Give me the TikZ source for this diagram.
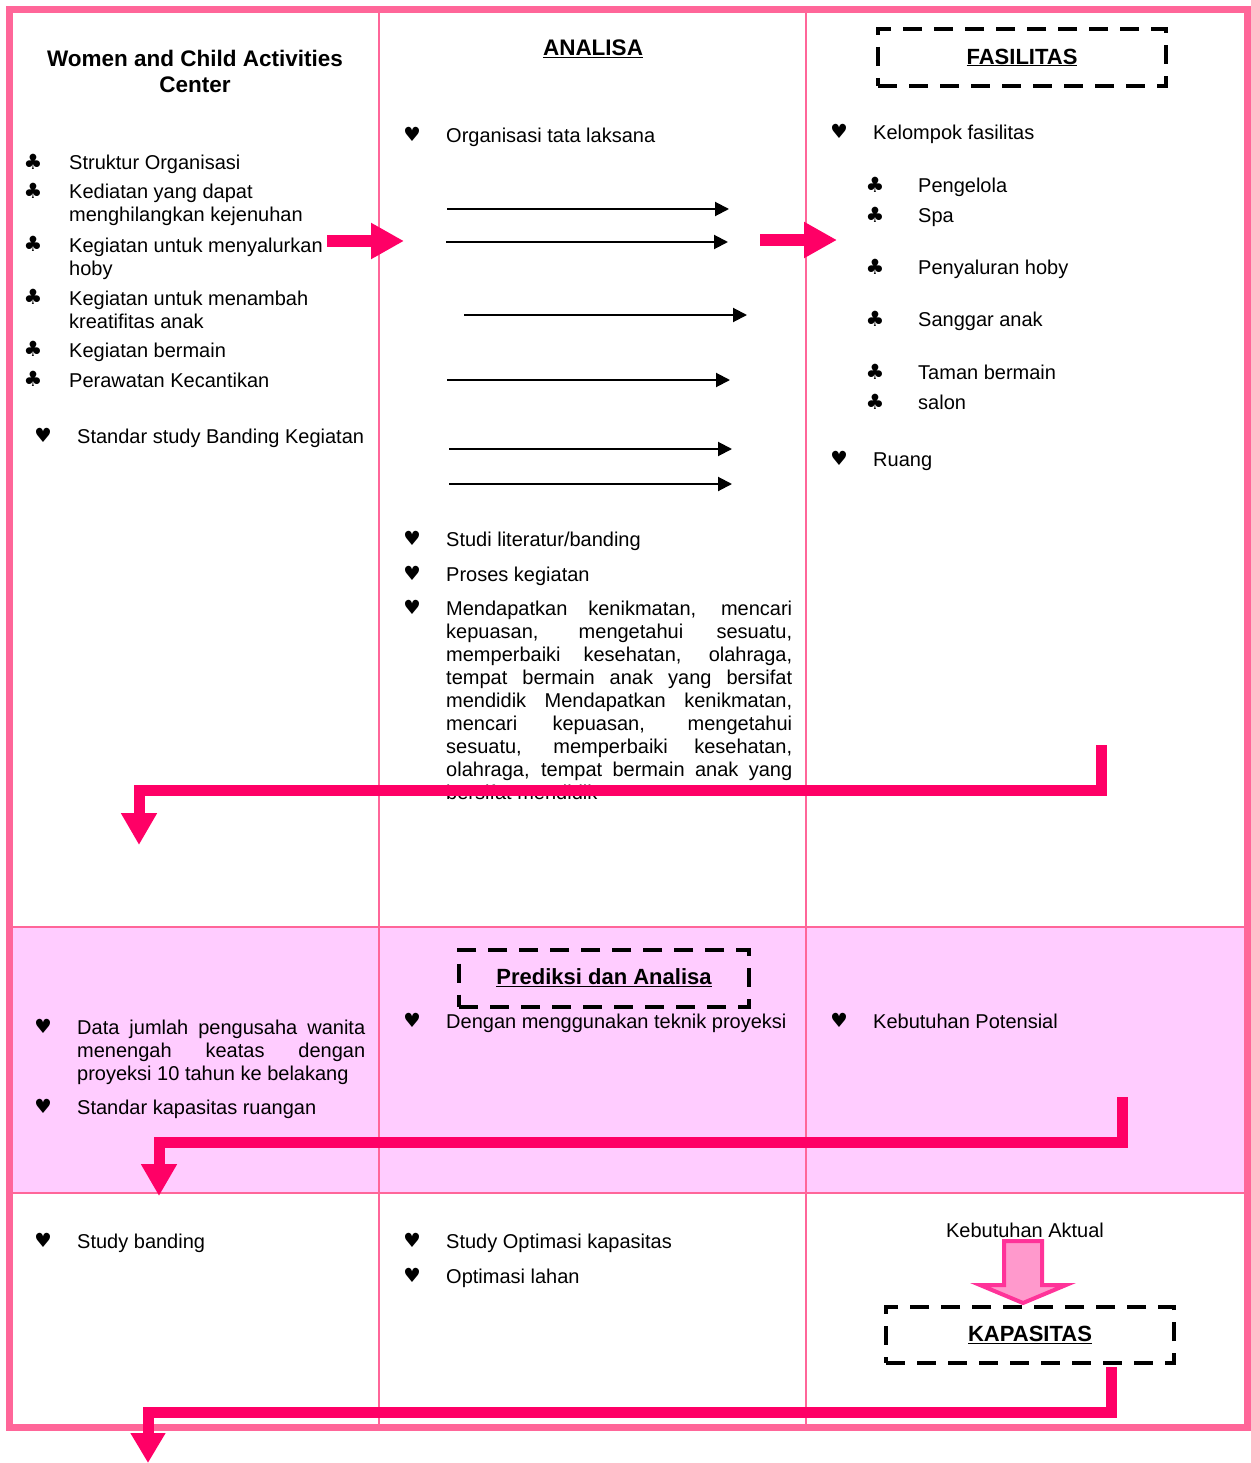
\documentclass[tikz,border=0pt]{standalone}
\usepackage{fontspec}
\setmainfont{Liberation Sans}
\newfontfamily\symf{DejaVu Sans}
\usetikzlibrary{arrows.meta}
\definecolor{framepink}{HTML}{FF6699}
\definecolor{hotpink}{HTML}{FF0066}
\definecolor{bandpink}{HTML}{FFCCFF}
\definecolor{fatfill}{HTML}{FF99CC}
\definecolor{fatline}{HTML}{FF3399}
\newcommand\mylines[1]{\vtop{\halign{##\hfil\cr#1\crcr}}}
\newcommand\mycenter[1]{\vtop{\halign{\hfil##\hfil\cr#1\crcr}}}
\newcommand\jline[2]{\makebox[#1][s]{#2}}
\tikzset{
  txt/.style={anchor=base west, inner sep=0pt, font=\fontsize{20}{23}\selectfont},
  ctxt/.style={anchor=base, inner sep=0pt, font=\fontsize{20}{23}\selectfont},
  ttl/.style={anchor=base, inner sep=0pt, font=\bfseries\fontsize{22.5}{25.5}\selectfont},
  clubb/.style={inner sep=0pt, font=\symf\fontsize{21}{21}\selectfont},
  heartb/.style={inner sep=0pt, font=\symf\fontsize{19.5}{19.5}\selectfont},
  flow/.style={draw=black, line width=2pt, -{Triangle[length=14pt,width=14pt]}},
  bigarrow/.style={draw=hotpink, line width=12pt, -{Triangle[length=33pt,width=34pt]}},
  elbow/.style={draw=hotpink, line width=11pt, line join=miter, -{Triangle[length=32pt,width=34pt]}},
  dbox/.style={draw=black, line width=4pt, dash pattern=on 19pt off 12pt, inner sep=0pt,
    minimum height=57pt, font=\bfseries\fontsize{22}{25.5}\selectfont},
  gridline/.style={draw=framepink, line width=2pt},
}
\begin{document}
\begin{tikzpicture}[x=1pt,y=-1pt]
\useasboundingbox (0,0) rectangle (1250,1463);
% pink band
\fill[bandpink] (13,927) rectangle (1244,1193);
% grid
\draw[gridline] (379,9.5) -- (379,1427);
\draw[gridline] (806,9.5) -- (806,1427);
\draw[gridline, line width=1.5pt] (9.5,927) -- (1247,927);
\draw[gridline, line width=1.5pt] (9.5,1193) -- (1247,1193);
\draw[draw=framepink, line width=7pt] (9.5,9.5) rectangle (1247,1427);

% ---------- column 1 ----------
\node[ttl] (title) at (195,67) {\mycenter{Women and Child Activities\cr Center}};
\node[clubb] (c1) at (33,161.5) {♣};
\node[txt] (t1) at (69,170) {Struktur Organisasi};
\node[clubb] (c2) at (33,190.5) {♣};
\node[txt] (t2) at (69,199) {\mylines{Kediatan yang dapat\cr menghilangkan kejenuhan}};
\node[clubb] (c3) at (33,243.5) {♣};
\node[txt] (t3) at (69,252) {\mylines{Kegiatan untuk menyalurkan\cr hoby}};
\node[clubb] (c4) at (33,296.5) {♣};
\node[txt] (t4) at (69,305) {\mylines{Kegiatan untuk menambah\cr kreatifitas anak}};
\node[clubb] (c5) at (33,348.5) {♣};
\node[txt] (t5) at (69,357) {Kegiatan bermain};
\node[clubb] (c6) at (33,378.5) {♣};
\node[txt] (t6) at (69,387) {Perawatan Kecantikan};
\node[heartb] (h1) at (43,435.5) {♥};
\node[txt] (s1) at (77,443.5) {Standar study Banding Kegiatan};

% ---------- column 2 ----------
\node[ttl] (analisa) at (593,56) {\underline{ANALISA}};
\node[heartb] (h2) at (412,134.5) {♥};
\node[txt] (o1) at (446,142.5) {Organisasi tata laksana};
\coordinate (f1s) at (447,209); \coordinate (f1e) at (729,209);
\coordinate (f2s) at (446,242); \coordinate (f2e) at (728,242);
\coordinate (f3s) at (464,315); \coordinate (f3e) at (747,315);
\coordinate (f4s) at (447,380); \coordinate (f4e) at (730,380);
\coordinate (f5s) at (449,449); \coordinate (f5e) at (732,449);
\coordinate (f6s) at (449,484); \coordinate (f6e) at (732,484);
\draw[flow] (f1s) -- (f1e);
\draw[flow] (f2s) -- (f2e);
\draw[flow] (f3s) -- (f3e);
\draw[flow] (f4s) -- (f4e);
\draw[flow] (f5s) -- (f5e);
\draw[flow] (f6s) -- (f6e);
\node[heartb] (h3) at (412,538.5) {♥};
\node[txt] (l1) at (446,546.5) {Studi literatur/banding};
\node[heartb] (h4) at (412,573.5) {♥};
\node[txt] (l2) at (446,581.5) {Proses kegiatan};
\node[heartb] (h5) at (412,607.5) {♥};
\node[txt] (para) at (446,615.5) {\mylines{%
\jline{346pt}{Mendapatkan kenikmatan, mencari}\cr
\jline{346pt}{kepuasan, mengetahui sesuatu,}\cr
\jline{346pt}{memperbaiki kesehatan, olahraga,}\cr
\jline{346pt}{tempat bermain anak yang bersifat}\cr
\jline{346pt}{mendidik Mendapatkan kenikmatan,}\cr
\jline{346pt}{mencari kepuasan, mengetahui}\cr
\jline{346pt}{sesuatu, memperbaiki kesehatan,}\cr
\jline{346pt}{olahraga, tempat bermain anak yang}\cr
bersifat mendidik}};

% ---------- column 3 ----------
\node[dbox, minimum width=288pt] (fas) at (1022,57.5) {\underline{FASILITAS}};
\node[heartb] (h6) at (839,131.5) {♥};
\node[txt] (k1) at (873,139.5) {Kelompok fasilitas};
\node[clubb] (c7) at (875,184.5) {♣};
\node[txt] (p1) at (918,192.5) {Pengelola};
\node[clubb] (c8) at (875,214.5) {♣};
\node[txt] (p2) at (918,222.5) {Spa};
\node[clubb] (c9) at (875,266.5) {♣};
\node[txt] (p3) at (918,274.5) {Penyaluran hoby};
\node[clubb] (c10) at (875,318.5) {♣};
\node[txt] (p4) at (918,326.5) {Sanggar anak};
\node[clubb] (c11) at (875,371.5) {♣};
\node[txt] (p5) at (918,379.5) {Taman bermain};
\node[clubb] (c12) at (875,401.5) {♣};
\node[txt] (p6) at (918,409.5) {salon};
\node[heartb] (h7) at (839,458.5) {♥};
\node[txt] (r1) at (873,466.5) {Ruang};

% ---------- band ----------
\node[dbox, minimum width=290pt] (pred) at (604,978) {\underline{Prediksi dan Analisa}};
\node[heartb] (h8) at (412,1020.5) {♥};
\node[txt] (d1) at (446,1028.5) {Dengan menggunakan teknik proyeksi};
\node[heartb] (h9) at (43,1026.5) {♥};
\node[txt] (d2) at (77,1034.5) {\mylines{%
\jline{288pt}{Data jumlah pengusaha wanita}\cr
\jline{288pt}{menengah keatas dengan}\cr
proyeksi 10 tahun ke belakang}};
\node[heartb] (h10) at (43,1106.5) {♥};
\node[txt] (d3) at (77,1114.5) {Standar kapasitas ruangan};
\node[heartb] (h11) at (839,1020.5) {♥};
\node[txt] (d4) at (873,1028.5) {Kebutuhan Potensial};

% ---------- bottom row ----------
\node[heartb] (h12) at (43,1240.5) {♥};
\node[txt] (b1) at (77,1248.5) {Study banding};
\node[heartb] (h13) at (412,1240.5) {♥};
\node[txt] (b2) at (446,1248.5) {Study Optimasi kapasitas};
\node[heartb] (h14) at (412,1275.5) {♥};
\node[txt] (b3) at (446,1283.5) {Optimasi lahan};
\node[ctxt] (aktual) at (1025,1237.5) {Kebutuhan Aktual};
\node[dbox, minimum width=288pt, minimum height=56pt] (kap) at (1030,1335) {\underline{KAPASITAS}};
% fat arrow from Kebutuhan Aktual to KAPASITAS
\filldraw[fill=fatfill, draw=fatline, line width=4pt, line join=miter]
  (1004,1241) -- (1042,1241) -- (1042,1285) -- (1066,1285) -- (1023,1303)
  -- (980,1285) -- (1004,1285) -- cycle;

% ---------- pink arrows ----------
\coordinate (a1s) at (327,241); \coordinate (a1e) at (404,241);
\coordinate (a2s) at (760,240); \coordinate (a2e) at (837,240);
\draw[bigarrow] (a1s) -- (a1e);
\draw[bigarrow] (a2s) -- (a2e);

\coordinate (e1s) at (1101.5,745); \coordinate (e1a) at (1101.5,790.5);
\coordinate (e1b) at (139,790.5); \coordinate (e1t) at (139,845);
\draw[elbow] (e1s) -- (e1a) -- (e1b) -- (e1t);

\coordinate (e2s) at (1122,1097); \coordinate (e2a) at (1122,1142);
\coordinate (e2b) at (159,1142); \coordinate (e2t) at (159,1196);
\draw[elbow] (e2s) -- (e2a) -- (e2b) -- (e2t);

\coordinate (e3s) at (1111,1367); \coordinate (e3a) at (1111,1412);
\coordinate (e3b) at (148,1412); \coordinate (e3t) at (148,1463);
\draw[elbow, -{Triangle[length=30pt,width=33pt]}] (e3s) -- (e3a) -- (e3b) -- (e3t);
\end{tikzpicture}
\end{document}
